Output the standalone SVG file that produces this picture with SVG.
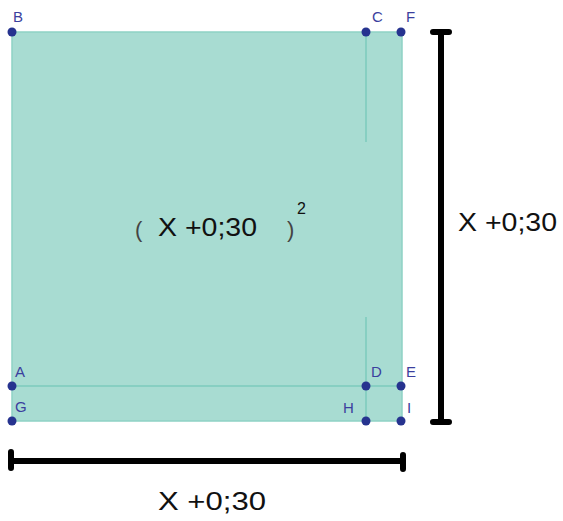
<svg xmlns="http://www.w3.org/2000/svg" width="563" height="521" viewBox="0 0 563 521">
<style>
.lbl{font-family:"Liberation Sans",Arial,sans-serif;font-size:15px;fill:#3b3f9e}
.big{font-family:"Liberation Sans",Arial,sans-serif;font-size:25px;fill:#111}
.par{font-family:"Liberation Sans",Arial,sans-serif;font-size:22px;fill:#444}
.pt{fill:#26338f}
.ln{stroke:#7ccbbd;stroke-width:1.5;fill:none}
.dim{stroke:#000;stroke-width:6;stroke-linecap:round;fill:none}
</style>
<g id="square">
<rect x="12" y="32" width="390" height="389" fill="#a8dcd2" stroke="#8fd2c5" stroke-width="1.5"/>
</g>
<g id="connectors">
<line class="ln" x1="12" y1="386" x2="402" y2="386"/>
<line class="ln" x1="366" y1="32" x2="366" y2="142"/>
<line class="ln" x1="366" y1="317" x2="366" y2="421"/>
<path class="dim" d="M441 32 V421 M433 32 H449 M433 422 H449"/>
<path class="dim" d="M11 461 H403 M11 452 V468 M403 455 V469"/>
</g>
<g id="B"><circle class="pt" cx="12" cy="32" r="4.5"/><text class="lbl" x="13" y="22">B</text></g>
<g id="C"><circle class="pt" cx="366" cy="32" r="4.5"/><text class="lbl" x="372" y="22">C</text></g>
<g id="F"><circle class="pt" cx="401" cy="32" r="4.5"/><text class="lbl" x="406" y="22">F</text></g>
<g id="A"><circle class="pt" cx="12" cy="386" r="4.5"/><text class="lbl" x="15" y="377">A</text></g>
<g id="D"><circle class="pt" cx="366" cy="386" r="4.5"/><text class="lbl" x="371" y="377">D</text></g>
<g id="E"><circle class="pt" cx="401" cy="386" r="4.5"/><text class="lbl" x="406" y="377">E</text></g>
<g id="G"><circle class="pt" cx="12" cy="421" r="4.5"/><text class="lbl" x="15" y="412">G</text></g>
<g id="H"><circle class="pt" cx="366" cy="421" r="4.5"/><text class="lbl" x="343" y="413">H</text></g>
<g id="I"><circle class="pt" cx="401" cy="421" r="4.5"/><text class="lbl" x="407" y="413">I</text></g>
<g id="area">
<text class="par" x="135" y="237">(</text>
<text class="big" x="158" y="236" textLength="99" lengthAdjust="spacingAndGlyphs">X +0;30</text>
<text class="par" x="287" y="237">)</text>
<text class="lbl" x="297" y="214" style="fill:#111;font-size:16px">2</text>
</g>
<g id="side"><text class="big" x="458" y="231" textLength="99" lengthAdjust="spacingAndGlyphs">X +0;30</text></g>
<g id="bottom"><text class="big" x="158" y="510" textLength="108" lengthAdjust="spacingAndGlyphs">X +0;30</text></g>
</svg>
